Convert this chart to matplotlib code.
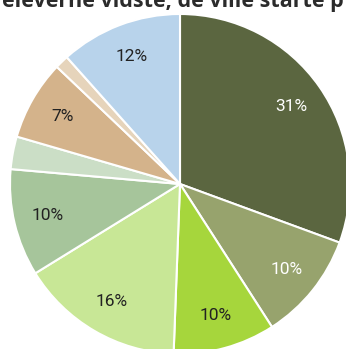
import matplotlib
matplotlib.use("Agg")
import matplotlib.pyplot as plt

# Andele (læst af billedet), med uret fra kl. 12
andele = [30.6, 10.3, 9.7, 15.6, 10.2, 3.1, 7.6, 1.3, 11.6]
etiketter = ['31%', '10%', '10%', '16%', '10%', '', '7%', '', '12%']
farver = ['#5b6640', '#97a36d', '#a6d63c', '#c8e796', '#a6c59b',
          '#cbdec6', '#d4b38b', '#e6d4bb', '#b8d3eb']
tekstfarver = ['white', 'white', '#222222', '#222222', '#222222',
               '#222222', '#222222', '#222222', '#222222']
titel = 'eleverne vidste, de ville starte p'

W, H = 346, 349
fig = plt.figure(figsize=(W / 100, H / 100), dpi=100)
cx, cy, r = 180, 184, 170
ax = fig.add_axes([(cx - r) / W, 1 - (cy + r) / H, 2 * r / W, 2 * r / H])

it = iter(etiketter)
wedges, texts, autotexts = ax.pie(
    andele, colors=farver, startangle=90, counterclock=False,
    autopct=lambda p: next(it), pctdistance=0.8,
    wedgeprops=dict(edgecolor='white', linewidth=1.5),
    textprops=dict(fontsize=12.5, family='Roboto'))
for t, c in zip(autotexts, tekstfarver):
    t.set_color(c)

ax.set_xlim(-1, 1)
ax.set_ylim(-1, 1)
ax.set_aspect('auto')
ax.axis('off')

fig.text(2 / W, 1 - 7 / H, titel, ha='left', va='baseline',
         fontsize=15.5, fontweight='bold', family='Open Sans', color='#2b2b2b')

fig.savefig('out.png', dpi=100)
